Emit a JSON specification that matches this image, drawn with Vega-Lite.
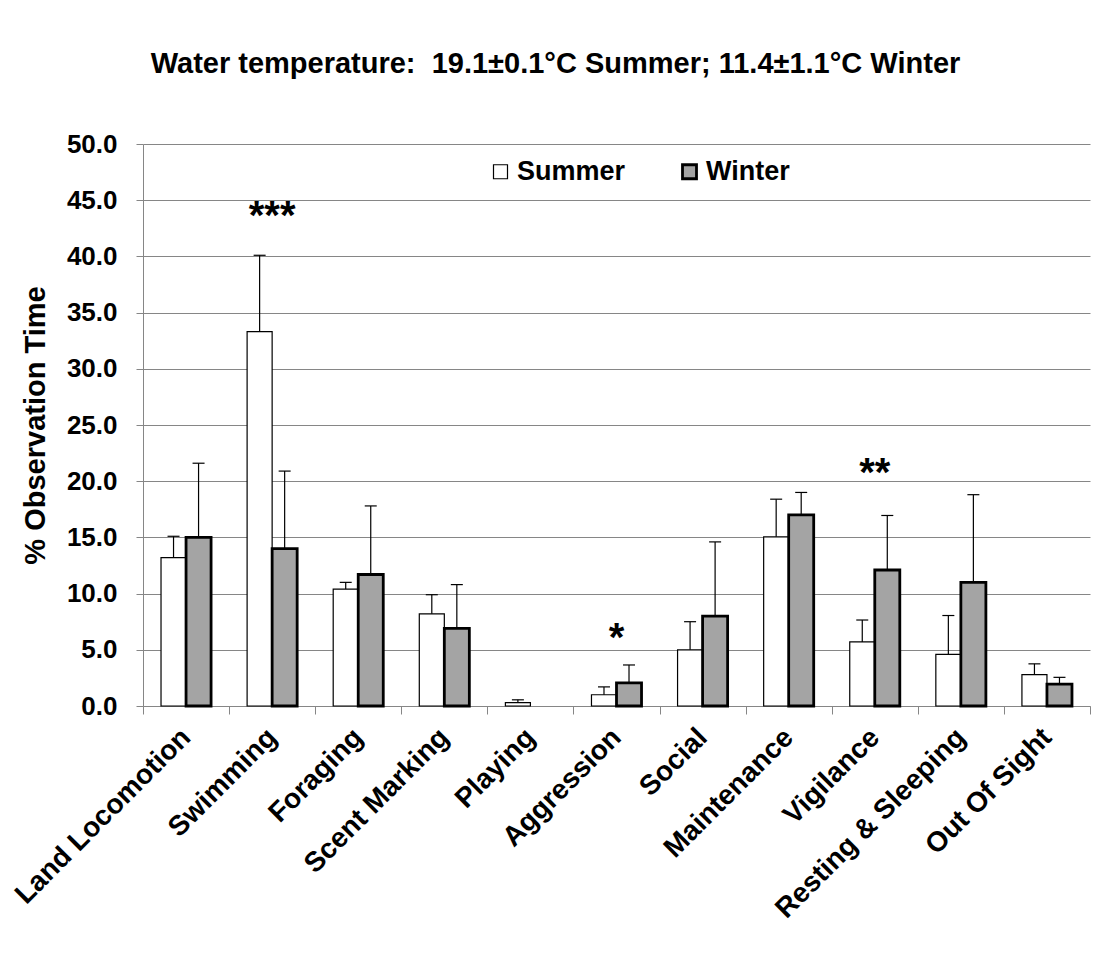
{
  "$schema": "https://vega.github.io/schema/vega-lite/v6.json",
  "width": 947,
  "height": 562,
  "autosize": {"type": "none"},
  "padding": {"left": 143, "top": 144, "right": 14, "bottom": 250},
  "background": "white",
  "title": {
    "text": "Water temperature:\u00a0\u00a019.1±0.1°C Summer; 11.4±1.1°C Winter",
    "font": "Liberation Sans",
    "fontSize": 29,
    "fontWeight": "bold",
    "color": "black",
    "anchor": "middle",
    "dx": -61,
    "offset": 52
  },
  "config": {
    "view": {"stroke": null},
    "font": "Liberation Sans",
    "axisX": {
      "labelAngle": -45,
      "labelAlign": "right",
      "labelBaseline": "middle",
      "labelFontSize": 28,
      "labelFontWeight": "bold",
      "labelColor": "black",
      "labelFont": "Liberation Sans",
      "labelLimit": 0,
      "tickBand": "extent",
      "tickSize": 8,
      "tickColor": "#868686",
      "domainColor": "#868686",
      "labelPadding": 19,
      "grid": false
    },
    "axisY": {
      "labelFontSize": 26,
      "labelFontWeight": "bold",
      "labelColor": "black",
      "labelFont": "Liberation Sans",
      "titleFont": "Liberation Sans",
      "titleFontSize": 29,
      "titleFontWeight": "bold",
      "titleColor": "black",
      "tickColor": "#868686",
      "domainColor": "#868686",
      "gridColor": "#868686",
      "gridOpacity": 1,
      "tickSize": 7,
      "labelPadding": 19,
      "titlePadding": 16,
      "format": ".1f",
      "values": [0, 5, 10, 15, 20, 25, 30, 35, 40, 45, 50]
    }
  },
  "datasets": {
    "bars": [
      {"category": "Land Locomotion", "season": "Summer", "value": 13.2, "upper": 15.1},
      {"category": "Land Locomotion", "season": "Winter", "value": 15.0, "upper": 21.6},
      {"category": "Swimming", "season": "Summer", "value": 33.3, "upper": 40.1},
      {"category": "Swimming", "season": "Winter", "value": 14.0, "upper": 20.9},
      {"category": "Foraging", "season": "Summer", "value": 10.4, "upper": 11.0},
      {"category": "Foraging", "season": "Winter", "value": 11.7, "upper": 17.8},
      {"category": "Scent Marking", "season": "Summer", "value": 8.2, "upper": 9.9},
      {"category": "Scent Marking", "season": "Winter", "value": 6.9, "upper": 10.8},
      {"category": "Playing", "season": "Summer", "value": 0.3, "upper": 0.55},
      {"category": "Playing", "season": "Winter", "value": 0, "upper": 0},
      {"category": "Aggression", "season": "Summer", "value": 1.0, "upper": 1.7},
      {"category": "Aggression", "season": "Winter", "value": 2.05, "upper": 3.65},
      {"category": "Social", "season": "Summer", "value": 5.0, "upper": 7.5},
      {"category": "Social", "season": "Winter", "value": 8.0, "upper": 14.6},
      {"category": "Maintenance", "season": "Summer", "value": 15.05, "upper": 18.4},
      {"category": "Maintenance", "season": "Winter", "value": 17.0, "upper": 19.0},
      {"category": "Vigilance", "season": "Summer", "value": 5.7, "upper": 7.65},
      {"category": "Vigilance", "season": "Winter", "value": 12.1, "upper": 16.95},
      {"category": "Resting & Sleeping", "season": "Summer", "value": 4.6, "upper": 8.05},
      {"category": "Resting & Sleeping", "season": "Winter", "value": 11.0, "upper": 18.8},
      {"category": "Out Of Sight", "season": "Summer", "value": 2.8, "upper": 3.75},
      {"category": "Out Of Sight", "season": "Winter", "value": 1.95, "upper": 2.55}
    ],
    "stars": [
      {"category": "Swimming", "label": "***", "y": 42.4},
      {"category": "Aggression", "label": "*", "y": 4.9},
      {"category": "Vigilance", "label": "**", "y": 19.6}
    ]
  },
  "layer": [
    {
      "data": {"name": "bars"},
      "transform": [{"filter": "datum.value > 0"}],
      "mark": {"type": "bar", "stroke": "black", "opacity": 1},
      "encoding": {
        "x": {
          "field": "category", "type": "nominal", "title": null,
          "sort": ["Land Locomotion", "Swimming", "Foraging", "Scent Marking", "Playing", "Aggression", "Social", "Maintenance", "Vigilance", "Resting & Sleeping", "Out Of Sight"],
          "scale": {"paddingInner": 0, "paddingOuter": 0}
        },
        "xOffset": {
          "field": "season", "type": "nominal",
          "scale": {"domain": ["Summer", "Winter"], "paddingInner": 0, "paddingOuter": 0.72}
        },
        "y": {
          "field": "value", "type": "quantitative", "title": "% Observation Time",
          "scale": {"domain": [0, 50], "nice": false}
        },
        "fill": {
          "field": "season", "type": "nominal",
          "scale": {"domain": ["Summer", "Winter"], "range": ["#ffffff", "#a4a4a4"]},
          "legend": {
            "orient": "none", "legendX": 344, "legendY": 14,
            "direction": "horizontal", "title": null,
            "symbolType": "square", "symbolSize": 196,
            "symbolStrokeColor": "black", "symbolStrokeWidth": 1,
            "labelFontSize": 27, "labelFontWeight": "bold", "labelColor": "black",
            "labelFont": "Liberation Sans", "labelOffset": 3, "columnPadding": 50
          }
        },
        "strokeWidth": {
          "field": "season", "type": "nominal",
          "scale": {"domain": ["Summer", "Winter"], "range": [1.2, 2.8]},
          "legend": null
        }
      }
    },
    {
      "data": {"name": "bars"},
      "transform": [{"filter": "datum.upper > datum.value"}],
      "mark": {"type": "rule", "color": "black", "strokeWidth": 1.2},
      "encoding": {
        "x": {
          "field": "category", "type": "nominal", "title": null,
          "sort": ["Land Locomotion", "Swimming", "Foraging", "Scent Marking", "Playing", "Aggression", "Social", "Maintenance", "Vigilance", "Resting & Sleeping", "Out Of Sight"]
        },
        "xOffset": {"field": "season", "type": "nominal"},
        "y": {"field": "value", "type": "quantitative", "title": "% Observation Time"},
        "y2": {"field": "upper"}
      }
    },
    {
      "data": {"name": "bars"},
      "transform": [{"filter": "datum.upper > datum.value"}],
      "mark": {"type": "tick", "color": "black", "thickness": 1.2, "size": 12, "opacity": 1},
      "encoding": {
        "x": {
          "field": "category", "type": "nominal", "title": null,
          "sort": ["Land Locomotion", "Swimming", "Foraging", "Scent Marking", "Playing", "Aggression", "Social", "Maintenance", "Vigilance", "Resting & Sleeping", "Out Of Sight"]
        },
        "xOffset": {"field": "season", "type": "nominal"},
        "y": {"field": "upper", "type": "quantitative", "title": "% Observation Time"}
      }
    },
    {
      "data": {"name": "stars"},
      "mark": {"type": "text", "font": "Liberation Sans", "fontSize": 40, "fontWeight": "bold", "baseline": "alphabetic", "align": "center", "color": "black"},
      "encoding": {
        "x": {
          "field": "category", "type": "nominal", "title": null,
          "sort": ["Land Locomotion", "Swimming", "Foraging", "Scent Marking", "Playing", "Aggression", "Social", "Maintenance", "Vigilance", "Resting & Sleeping", "Out Of Sight"]
        },
        "y": {"field": "y", "type": "quantitative", "title": "% Observation Time"},
        "text": {"field": "label"}
      }
    }
  ]
}
